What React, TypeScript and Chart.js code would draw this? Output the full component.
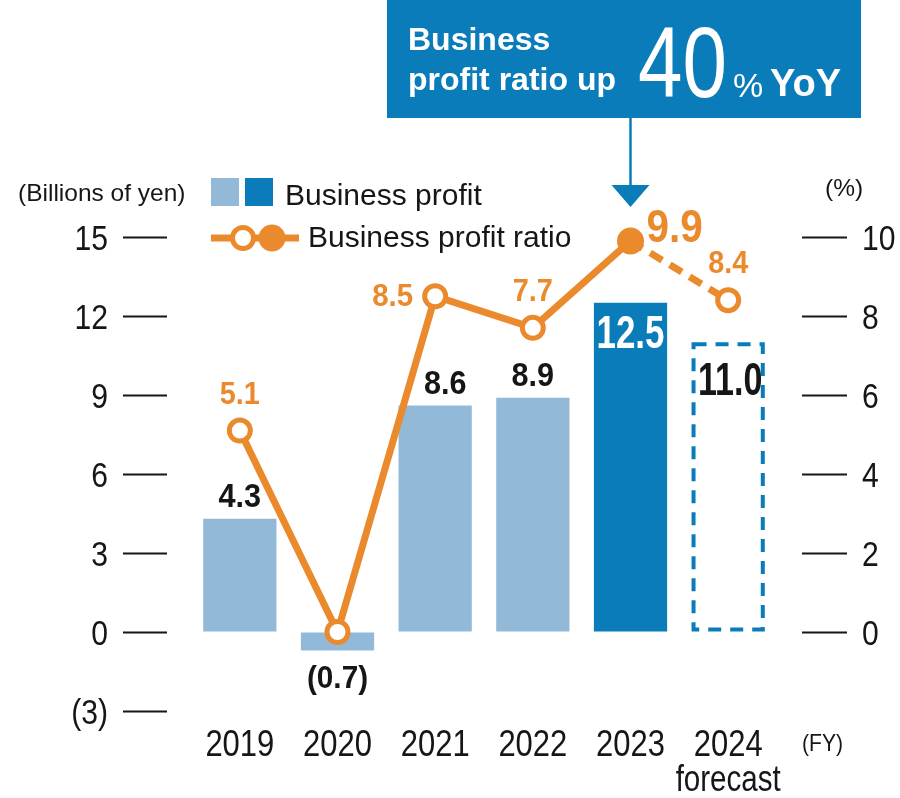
import { useEffect, useRef } from 'react';
import { Chart, registerables } from 'chart.js';

Chart.register(...registerables);

// ---- data ----
const categories: string[][] = [['2019'], ['2020'], ['2021'], ['2022'], ['2023'], ['2024', 'forecast']];
const businessProfit = [4.3, -0.7, 8.6, 8.9, 12.5, 11.0];
const profitRatio = [5.1, 0.0, 8.5, 7.7, 9.9, 8.4];
const profitLabels = ['4.3', '(0.7)', '8.6', '8.9', '12.5', '11.0'];
const ratioLabels = ['5.1', '', '8.5', '7.7', '9.9', '8.4'];
const leftTickValues = [-3, 0, 3, 6, 9, 12, 15];
const leftTickLabels = ['(3)', '0', '3', '6', '9', '12', '15'];
const rightTickValues = [0, 2, 4, 6, 8, 10];
const rightTickLabels = ['0', '2', '4', '6', '8', '10'];

// ---- styles ----
const LIGHT = '#93b9d9';
const DARK = '#0a7cb9';
const ORANGE = '#ea8a2c';
const INK = '#161616';
const SANS = "'Liberation Sans', Arial, Helvetica, sans-serif";

// condensed text: Liberation Sans squeezed horizontally (Arial-Narrow style)
function narrowText(
  ctx: CanvasRenderingContext2D,
  txt: string,
  x: number,
  y: number,
  font: string,
  align: 'left' | 'center' | 'right',
  sx: number,
  color: string
) {
  ctx.save();
  ctx.font = font;
  ctx.textAlign = 'left';
  ctx.textBaseline = 'alphabetic';
  ctx.fillStyle = color;
  const w = ctx.measureText(txt).width * sx;
  const left = align === 'center' ? x - w / 2 : align === 'right' ? x - w : x;
  ctx.translate(left, y);
  ctx.scale(sx, 1);
  ctx.fillText(txt, 0, 0);
  ctx.restore();
}

const overlayPlugin = {
  id: 'overlay',
  afterDatasetsDraw(chart: any) {
    const ctx = chart.ctx as CanvasRenderingContext2D;
    const barMeta = chart.getDatasetMeta(0);
    const lineMeta = chart.getDatasetMeta(1);

    // dashed forecast bar
    const fb = barMeta.data[5].getProps(['x', 'y', 'base', 'width'], true);
    ctx.save();
    ctx.strokeStyle = DARK;
    ctx.lineWidth = 4;
    ctx.setLineDash([13, 9]);
    ctx.strokeRect(fb.x - fb.width / 2 + 2, fb.y + 2, fb.width - 4, fb.base - fb.y - 4);
    ctx.restore();

    // bar value labels
    barMeta.data.forEach((el: any, i: number) => {
      const p = el.getProps(['x', 'y', 'base'], true);
      const txt = profitLabels[i];
      if (i === 4) {
        narrowText(ctx, txt, p.x, p.y + 45, `bold 46px ${SANS}`, 'center', 0.76, '#ffffff');
      } else if (i === 5) {
        narrowText(ctx, txt, p.x + 2, p.y + 53, `bold 46px ${SANS}`, 'center', 0.74, INK);
      } else if (businessProfit[i] < 0) {
        narrowText(ctx, txt, p.x, p.y + 38, `bold 32px ${SANS}`, 'center', 0.93, INK);
      } else {
        const dx = i === 2 ? 10 : 0;
        narrowText(ctx, txt, p.x + dx, p.y - 12, `bold 34px ${SANS}`, 'center', 0.9, INK);
      }
    });

    // ratio labels
    lineMeta.data.forEach((el: any, i: number) => {
      const txt = ratioLabels[i];
      if (!txt) return;
      const p = el.getProps(['x', 'y'], true);
      if (i === 4) {
        narrowText(ctx, txt, p.x + 16, p.y + 1, `bold 46px ${SANS}`, 'left', 0.88, ORANGE);
      } else if (i === 2) {
        narrowText(ctx, txt, p.x - 22, p.y + 10, `bold 31px ${SANS}`, 'right', 0.95, ORANGE);
      } else {
        narrowText(ctx, txt, p.x, p.y - 27, `bold 31px ${SANS}`, 'center', 0.93, ORANGE);
      }
    });
  },
  afterDraw(chart: any) {
    const ctx = chart.ctx as CanvasRenderingContext2D;
    const xs = chart.scales.x;
    const yl = chart.scales.y;
    const yr = chart.scales.y1;

    // axis tick labels (condensed), positioned by the chart's scales
    const axFont = `35px ${SANS}`;
    leftTickValues.forEach((v, i) => {
      narrowText(ctx, leftTickLabels[i], 108, yl.getPixelForValue(v) + 12.5, axFont, 'right', 0.86, INK);
    });
    rightTickValues.forEach((v, i) => {
      narrowText(ctx, rightTickLabels[i], 862, yr.getPixelForValue(v) + 12.5, axFont, 'left', 0.86, INK);
    });
    categories.forEach((lines, i) => {
      const x = xs.getPixelForValue(i);
      lines.forEach((ln, k) => {
        narrowText(ctx, ln, x, 756 + k * 35, `36px ${SANS}`, 'center', k === 0 ? 0.86 : 0.82, INK);
      });
    });

    ctx.save();
    // unit titles
    ctx.fillStyle = INK;
    ctx.textBaseline = 'alphabetic';
    ctx.textAlign = 'left';
    ctx.font = `24.5px ${SANS}`;
    ctx.fillText('(Billions of yen)', 18, 201);
    ctx.fillText('(%)', 825, 196);
    ctx.restore();
    narrowText(ctx, '(FY)', 802, 751, `24px ${SANS}`, 'left', 0.88, INK);

    ctx.save();
    // legend: bars
    ctx.fillStyle = LIGHT;
    ctx.fillRect(211, 178, 28, 28);
    ctx.fillStyle = DARK;
    ctx.fillRect(245, 178, 28, 28);
    ctx.fillStyle = INK;
    ctx.textBaseline = 'alphabetic';
    ctx.textAlign = 'left';
    ctx.font = `30px ${SANS}`;
    ctx.fillText('Business profit', 285, 205);

    // legend: line
    ctx.strokeStyle = ORANGE;
    ctx.lineWidth = 7;
    ctx.beginPath();
    ctx.moveTo(211, 238);
    ctx.lineTo(299, 238);
    ctx.stroke();
    ctx.beginPath();
    ctx.arc(243, 238, 10.5, 0, Math.PI * 2);
    ctx.fillStyle = '#ffffff';
    ctx.fill();
    ctx.lineWidth = 5;
    ctx.stroke();
    ctx.beginPath();
    ctx.arc(272, 238, 13.5, 0, Math.PI * 2);
    ctx.fillStyle = ORANGE;
    ctx.fill();
    ctx.fillStyle = INK;
    ctx.fillText('Business profit ratio', 308, 247);

    // callout box
    ctx.fillStyle = DARK;
    ctx.fillRect(387, 0, 474, 118);
    ctx.fillStyle = '#ffffff';
    ctx.font = `bold 32px ${SANS}`;
    ctx.fillText('Business', 408, 50);
    ctx.fillText('profit ratio up', 408, 90);
    ctx.font = `34px ${SANS}`;
    ctx.fillText('%', 733, 97);
    ctx.font = `bold 38px ${SANS}`;
    ctx.fillText('YoY', 770, 96);
    ctx.restore();
    narrowText(ctx, '40', 638, 97, `100px ${SANS}`, 'left', 0.8, '#ffffff');

    // arrow
    ctx.save();
    const ax = xs.getPixelForValue(4);
    ctx.strokeStyle = DARK;
    ctx.lineWidth = 2.5;
    ctx.beginPath();
    ctx.moveTo(ax, 118);
    ctx.lineTo(ax, 187);
    ctx.stroke();
    ctx.fillStyle = DARK;
    ctx.beginPath();
    ctx.moveTo(ax - 19, 185);
    ctx.lineTo(ax + 19, 185);
    ctx.lineTo(ax, 207);
    ctx.closePath();
    ctx.fill();
    ctx.restore();
  },
};

export default function App() {
  const ref = useRef<HTMLCanvasElement | null>(null);

  useEffect(() => {
    if (!ref.current) return;
    const chart = new Chart(ref.current, {
      type: 'bar',
      data: {
        labels: categories.map((c) => c.join(' ')),
        datasets: [
          {
            type: 'bar',
            label: 'Business profit',
            data: businessProfit,
            backgroundColor: [LIGHT, LIGHT, LIGHT, LIGHT, DARK, 'rgba(0,0,0,0)'],
            borderWidth: 0,
            barPercentage: 0.75,
            categoryPercentage: 1,
            yAxisID: 'y',
            order: 2,
          },
          {
            type: 'line',
            label: 'Business profit ratio',
            data: profitRatio,
            borderColor: ORANGE,
            borderWidth: 7,
            clip: false,
            pointRadius: [10.5, 10.5, 10.5, 10.5, 12, 10.5],
            pointBorderWidth: [5, 5, 5, 5, 3, 5],
            pointBackgroundColor: ['#fff', '#fff', '#fff', '#fff', ORANGE, '#fff'],
            pointBorderColor: ORANGE,
            segment: {
              borderDash: (c: any) => (c.p0DataIndex === 4 ? [14, 9] : undefined),
            },
            yAxisID: 'y1',
            order: 1,
          } as any,
        ],
      },
      options: {
        animation: false,
        responsive: true,
        maintainAspectRatio: false,
        layout: { padding: { top: 237, left: 0, right: 0, bottom: 0 } },
        plugins: { legend: { display: false }, tooltip: { enabled: false } },
        scales: {
          x: {
            type: 'category',
            offset: true,
            grid: { display: false, drawTicks: false },
            border: { display: false },
            ticks: { display: false },
            afterFit: (s: any) => {
              s.height = 87;
            },
          },
          y: {
            position: 'left',
            min: -3,
            max: 15,
            afterBuildTicks: (s: any) => {
              s.ticks = leftTickValues.map((v) => ({ value: v }));
            },
            ticks: { display: false },
            grid: {
              drawOnChartArea: false,
              drawTicks: true,
              tickLength: 68,
              tickColor: INK,
              tickWidth: 2,
              tickBorderDash: [44, 24],
            } as any,
            border: { display: false },
            afterFit: (s: any) => {
              s.width = 191;
            },
          },
          y1: {
            position: 'right',
            min: -2,
            max: 10,
            afterBuildTicks: (s: any) => {
              s.ticks = rightTickValues.map((v) => ({ value: v }));
            },
            ticks: { display: false },
            grid: {
              drawOnChartArea: false,
              drawTicks: true,
              tickLength: 70,
              tickColor: INK,
              tickWidth: 2,
              tickBorderDash: [45, 25],
              tickBorderDashOffset: 45,
            } as any,
            border: { display: false },
            afterFit: (s: any) => {
              s.width = 123;
            },
          },
        },
      },
      plugins: [overlayPlugin],
    });
    return () => chart.destroy();
  }, []);

  return (
    <div style={{ position: 'absolute', left: 0, top: 0, width: 900, height: 798, background: '#fff' }}>
      <canvas ref={ref} />
    </div>
  );
}
